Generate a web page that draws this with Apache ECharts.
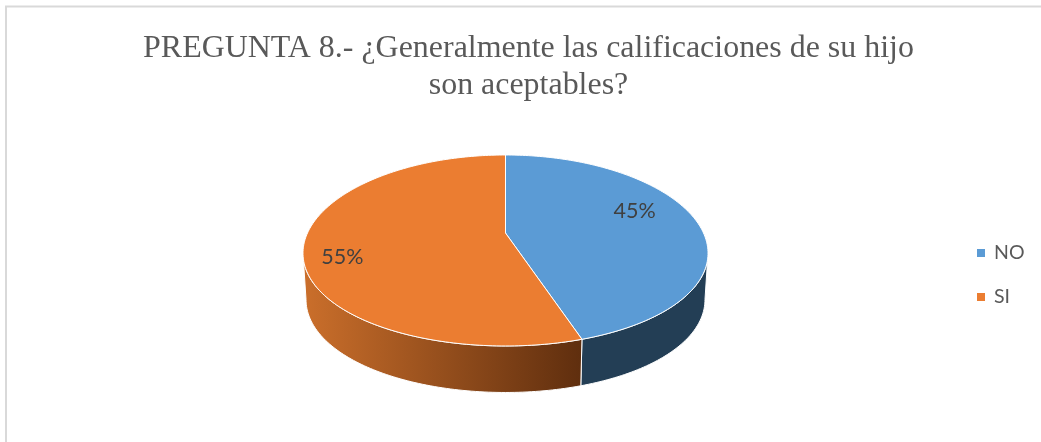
<!DOCTYPE html>
<html>
<head>
<meta charset="utf-8">
<style>html,body{margin:0;padding:0;background:#fff}#chart{width:1041px;height:442px}</style>
<script src="https://cdn.jsdelivr.net/npm/echarts@6/dist/echarts.min.js"></script>
</head>
<body>
<div id="chart"></div>
<script>
const titleText = 'PREGUNTA 8.- ¿Generalmente las calificaciones de su hijo\nson aceptables?';
const categories = ['NO', 'SI'];
const values = [45, 55];
const topColors = ['#5B9BD5', '#EB7D31'];
const total = values.reduce((a, b) => a + b, 0);

// Perspective projection of the pie's top disc onto the page
const P = { x0: 505.5, y0: 233, a: 198, b: 92.3, k: 0.183, kx: 0.21, depth: 46.5, shrink: 0.985 };
const rad = d => d * Math.PI / 180;
function project(deg, r, lower) {
  const X = r * Math.sin(rad(deg)), Y = -r * Math.cos(rad(deg));
  let x = P.a * X / (1 - P.kx * Y), y = P.b * Y / (1 - P.k * Y);
  if (lower) { x *= P.shrink; y += P.depth; }
  return [P.x0 + x, P.y0 + y];
}
const tangent = Math.acos(-P.kx) * 180 / Math.PI;   // rim silhouette, right side
const wallRange = [tangent, 360 - tangent];
const wallFills = [
  '#233E55',
  { type: 'linear', x: 0, y: 0, x2: 1, y2: 0, colorStops: [
    { offset: 0, color: '#CB6F2B' }, { offset: 1, color: '#5F2E0E' } ] }
];
const labelSpots = [[70, 0.73], [252, 0.82]];

function arc(from, to, r, lower) {
  const pts = [], n = Math.max(2, Math.ceil(Math.abs(to - from)));
  for (let i = 0; i <= n; i++) pts.push(project(from + (to - from) * i / n, r, lower));
  return pts;
}

function makeRender(i) {
  return function (params, api) {
    const v = api.value(0);
    const before = values.slice(0, i).reduce((a, b) => a + b, 0);
    const start = before / total * 360, end = start + v / total * 360;
    const children = [];
    const wf = Math.max(start, wallRange[0]), wt = Math.min(end, wallRange[1]);
    if (wt > wf) {
      children.push({
        type: 'polygon', z2: 1,
        shape: { points: arc(wf, wt, 1, false).concat(arc(wt, wf, 1, true)) },
        style: { fill: wallFills[i], stroke: '#fff', lineWidth: 1 }
      });
    }
    children.push({
      type: 'polygon', z2: 2,
      shape: { points: [project(0, 0, false)].concat(arc(start, end, 1, false)) },
      style: { fill: topColors[i], stroke: '#fff', lineWidth: 1, lineJoin: 'round' }
    });
    const spot = project(labelSpots[i][0], labelSpots[i][1], false);
    children.push({
      type: 'text', z2: 3, x: spot[0], y: spot[1],
      style: {
        text: Math.round(v / total * 100) + '%', align: 'center', verticalAlign: 'middle',
        fill: '#404040', font: '21.5px Lato, "Open Sans", sans-serif'
      }
    });
    return { type: 'group', children };
  };
}

const chart = echarts.init(document.getElementById('chart'), null, { renderer: 'canvas' });
chart.setOption({
  animation: false,
  backgroundColor: '#fff',
  color: topColors,
  title: {
    text: titleText, left: 523.5, top: 25.5, textAlign: 'center',
    textStyle: { fontFamily: '"Liberation Serif", serif', fontWeight: 'normal', fontSize: 31.95, lineHeight: 37, color: '#595959' }
  },
  legend: {
    data: categories, orient: 'vertical', left: 972, top: 234, icon: 'rect',
    itemWidth: 8, itemHeight: 8, itemGap: 16,
    textStyle: { fontFamily: 'Lato, "Open Sans", sans-serif', fontSize: 19.5, color: '#595959', lineHeight: 28, padding: [0, 0, 0, 4] }
  },
  graphic: [
    { type: 'line', silent: true, shape: { x1: 6, y1: 6, x2: 6, y2: 442 }, style: { stroke: '#D9D9D9', lineWidth: 2 } },
    { type: 'line', silent: true, shape: { x1: 5, y1: 6.5, x2: 1041, y2: 6.5 }, style: { stroke: '#D9D9D9', lineWidth: 2 } }
  ],
  series: categories.map((name, i) => ({
    type: 'custom', name, coordinateSystem: 'none', data: [values[i]],
    renderItem: makeRender(i), silent: true
  }))
});
</script>
</body>
</html>
